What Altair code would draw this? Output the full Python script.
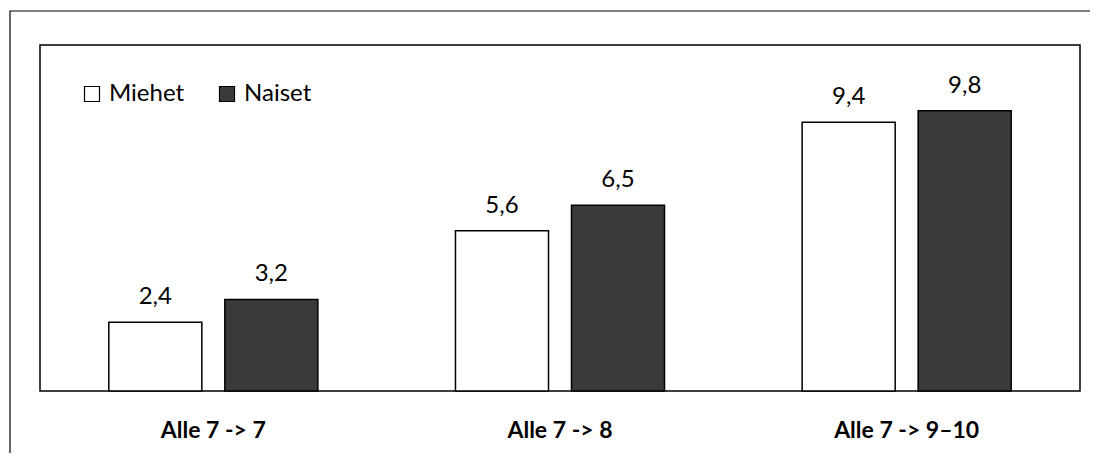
import altair as alt
import pandas as pd

categories = ["Alle 7 -> 7", "Alle 7 -> 8", "Alle 7 -> 9–10"]
groups = ["Miehet", "Naiset"]
miehet = [2.4, 5.6, 9.4]
naiset = [3.2, 6.5, 9.8]

rows = []
for c, m, n in zip(categories, miehet, naiset):
    rows.append({"kat": c, "sukupuoli": "Miehet", "arvo": m})
    rows.append({"kat": c, "sukupuoli": "Naiset", "arvo": n})
df = pd.DataFrame(rows)
df["label"] = df["arvo"].map(lambda v: f"{v:.1f}".replace(".", ","))

FONT = "Lato"

x_enc = alt.X("kat:N", sort=categories, title=None,
              scale=alt.Scale(paddingInner=0.397, paddingOuter=0.1985),
              axis=alt.Axis(labelAngle=0, domain=False, ticks=False,
                            labelFont=FONT, labelFontSize=23, labelFontWeight="bold",
                            labelColor="black", labelPadding=28))
xoff = alt.XOffset("sukupuoli:N", sort=groups,
                   scale=alt.Scale(paddingInner=0.198, paddingOuter=0))
y_enc = alt.Y("arvo:Q", axis=None, scale=alt.Scale(domain=[0, 12.1], nice=False))

base = alt.Chart(df)

bars = base.mark_bar(stroke="black", strokeWidth=1.5).encode(
    x=x_enc,
    xOffset=xoff,
    y=y_enc,
    fill=alt.Fill("sukupuoli:N", sort=groups,
                  scale=alt.Scale(domain=groups, range=["#ffffff", "#3a3a3a"]),
                  legend=alt.Legend(title=None, orient="none", legendX=40, legendY=37,
                                    direction="horizontal", symbolType="square",
                                    symbolSize=225, symbolStrokeColor="black",
                                    symbolStrokeWidth=1.2, labelFont=FONT,
                                    labelFontSize=24, labelColor="black",
                                    labelOffset=5, columnPadding=30, padding=0)),
)

texts = base.mark_text(baseline="alphabetic", dy=-18, font=FONT, fontSize=24,
                       color="black").encode(
    x=x_enc,
    xOffset=xoff,
    y=y_enc,
    text="label:N",
)

frame = alt.Chart(pd.DataFrame({"a": [0]})).mark_rect(
    fill=None, stroke="black", strokeWidth=1.2
).encode(
    x=alt.value(-30), x2=alt.value(1200), y=alt.value(-34), y2=alt.value(600)
)

chart = alt.layer(frame, bars, texts).properties(
    width=1040, height=346,
    autosize=alt.AutoSizeParams(type="none"),
    padding={"left": 32, "top": 37, "right": 10, "bottom": 62},
    background="white",
).configure_view(stroke="black", strokeWidth=1.5)

chart.save("out.html", embed_options={"renderer": "svg", "actions": False})
